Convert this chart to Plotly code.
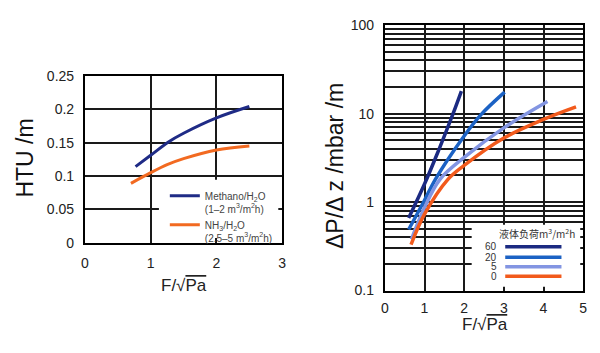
import plotly.graph_objects as go

# ---- Left chart data (HTU vs F-factor) ----
meth_x = [0.77, 1.0, 1.27, 1.5, 2.0, 2.5]
meth_y = [0.114, 0.131, 0.151, 0.164, 0.187, 0.204]
nh3_x = [0.70, 1.0, 1.25, 1.5, 2.0, 2.5]
nh3_y = [0.089, 0.105, 0.117, 0.126, 0.139, 0.145]
meth_name = "Methano/H<sub>2</sub>O<br>(1–2 m<sup>3</sup>/m<sup>2</sup>h)"
nh3_name = "NH<sub>3</sub>/H<sub>2</sub>O<br>(2.5–5 m<sup>3</sup>/m<sup>2</sup>h)"

# ---- Right chart data (pressure drop vs F-factor, by liquid load) ----
load_labels = ["60", "20", "5", "0"]
s60_x = [0.60, 1.0, 1.35, 1.72, 1.93]
s60_y = [0.66, 1.6, 3.8, 10.0, 18.0]
s20_x = [0.60, 1.0, 1.27, 2.0, 2.43, 3.02]
s20_y = [0.49, 1.05, 1.8, 5.6, 9.8, 17.5]
s5_x = [0.67, 1.0, 1.39, 2.0, 3.0, 4.1]
s5_y = [0.38, 0.87, 1.81, 3.2, 6.9, 13.7]
s0_x = [0.66, 1.0, 1.59, 2.0, 3.0, 4.0, 4.82]
s0_y = [0.33, 0.73, 1.81, 2.6, 5.3, 8.6, 11.9]
legend_title = "液体负荷m<sup>3</sup>/m<sup>2</sup>h"

left_x_ticks = [0, 1, 2, 3]
left_y_ticks = [0, 0.05, 0.1, 0.15, 0.2, 0.25]
right_x_ticks = [0, 1, 2, 3, 4, 5]
right_y_ticks = [0.1, 1, 10, 100]
right_y_text = ["0.1", "1", "10", "100"]

C_NAVY = "#1f2b86"
C_ORANGE = "#f26a21"
C60 = "#1b2a82"
C20 = "#1c62c4"
C5 = "#8395e2"
C0 = "#f25a1c"

FONT = "Liberation Sans, Arial, sans-serif"
xtitle = "F/√<span style='text-decoration:overline'>Pa</span>"

W, H = 600, 353


def px(x):
    return x / W


def py(y):
    return 1 - y / H


fig = go.Figure()
fig.add_trace(go.Scatter(x=meth_x, y=meth_y, mode="lines", name=meth_name,
                         line=dict(color=C_NAVY, width=3, shape="spline"),
                         xaxis="x", yaxis="y", legend="legend"))
fig.add_trace(go.Scatter(x=nh3_x, y=nh3_y, mode="lines", name=nh3_name,
                         line=dict(color=C_ORANGE, width=3, shape="spline"),
                         xaxis="x", yaxis="y", legend="legend"))

series = [(s60_x, s60_y, C60), (s20_x, s20_y, C20), (s5_x, s5_y, C5), (s0_x, s0_y, C0)]
for (sx, sy, c), lab in zip(series, load_labels):
    fig.add_trace(go.Scatter(x=sx, y=sy, mode="lines", name=lab, showlegend=False,
                             line=dict(color=c, width=3.5, shape="spline"),
                             xaxis="x2", yaxis="y2"))

grid = dict(showgrid=True, gridcolor="#1a1a1a", gridwidth=1.5, showline=True,
            linecolor="black", linewidth=2, mirror="ticks", ticks="inside",
            ticklen=5, tickcolor="#1a1a1a", zeroline=False,
            tickfont=dict(size=14, color="#222", family=FONT))

shapes = []
annotations = []
# white box behind left legend
shapes.append(dict(type="rect", xref="paper", yref="paper", layer="above",
                   x0=px(157), x1=px(278), y0=py(241), y1=py(180),
                   fillcolor="white", line=dict(width=0)))
# white box for right legend
shapes.append(dict(type="rect", xref="paper", yref="paper", layer="above",
                   x0=px(474), x1=px(584), y0=py(292), y1=py(227),
                   fillcolor="white", line=dict(width=0)))
annotations.append(dict(text=legend_title, xref="paper", yref="paper",
                        x=px(540), y=py(236), xanchor="center", yanchor="middle",
                        showarrow=False,
                        font=dict(size=10, color="#333", family="Noto Sans CJK SC, " + FONT)))
leg_y = [250, 261, 271, 281]
for lab, (_, _, c), yy in zip(load_labels, series, leg_y):
    annotations.append(dict(text=lab, xref="paper", yref="paper", x=px(502), y=py(yy),
                            xanchor="right", yanchor="middle", showarrow=False,
                            font=dict(size=10, color="#333", family=FONT)))
    shapes.append(dict(type="line", xref="paper", yref="paper", layer="above",
                       x0=px(508), x1=px(565), y0=py(yy), y1=py(yy),
                       line=dict(color=c, width=3.5)))

fig.update_layout(
    width=W, height=H, margin=dict(l=0, r=0, t=0, b=0),
    paper_bgcolor="white", plot_bgcolor="white",
    font=dict(family=FONT, color="#222"),
    xaxis=dict(domain=[px(82), px(282)], range=[0, 3], tickvals=left_x_ticks,
               ticklabelstandoff=6, anchor="y", **grid),
    yaxis=dict(domain=[py(246), py(71)], range=[0, 0.25], tickvals=left_y_ticks,
               ticklabelstandoff=6, anchor="x", **grid),
    xaxis2=dict(domain=[px(386), px(587)], range=[0, 5], tickvals=right_x_ticks,
                ticklabelstandoff=4, anchor="y2", **grid),
    yaxis2=dict(domain=[py(296), py(18)], type="log", range=[-1, 2],
                tickvals=right_y_ticks, ticktext=right_y_text, ticklabelstandoff=6,
                anchor="x2",
                minor=dict(showgrid=True, gridcolor="#1a1a1a", gridwidth=1.5,
                           dtick="D1", ticks="inside", ticklen=5, tickcolor="#1a1a1a"),
                **grid),
    legend=dict(x=px(163), y=py(183), xanchor="left", yanchor="top",
                bgcolor="rgba(0,0,0,0)", font=dict(size=10, color="#444", family=FONT),
                itemwidth=30, tracegroupgap=2, valign="top"),
    shapes=shapes,
    annotations=annotations + [
        dict(text="HTU /m", xref="paper", yref="paper", x=px(21), y=py(157),
             xanchor="center", yanchor="middle",
             textangle=-90, showarrow=False, font=dict(size=23, color="#111", family=FONT)),
        dict(text=xtitle, xref="paper", yref="paper", x=px(182), y=py(291),
             xanchor="center", yanchor="middle",
             showarrow=False, font=dict(size=17, color="#222", family=FONT)),
        dict(text="ΔP/Δ z /mbar /m", xref="paper", yref="paper", x=px(336), y=py(166),
             xanchor="center", yanchor="middle",
             textangle=-90, showarrow=False, font=dict(size=23, color="#111", family=FONT)),
        dict(text=xtitle, xref="paper", yref="paper", x=px(487), y=py(332),
             xanchor="center", yanchor="middle",
             showarrow=False, font=dict(size=17, color="#222", family=FONT)),
    ],
)

fig.write_html("out.html")
